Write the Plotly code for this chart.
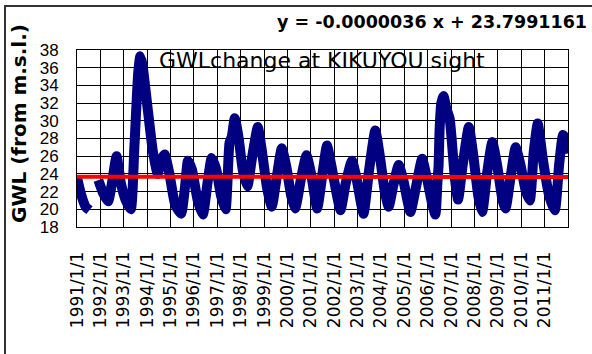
import plotly.graph_objects as go
import pandas as pd

# Groundwater level readings (m above mean sea level)
dates = [
    "1991-01-01", "1991-03-01", "1991-05-15", "1991-07-15", "1991-09-15",
    "1991-12-01", "1992-02-15", "1992-05-01", "1992-07-01", "1992-09-10", "1992-11-15",
    "1993-02-01", "1993-04-20", "1993-06-15", "1993-08-15", "1993-09-15", "1993-10-20",
    "1994-01-15", "1994-04-01", "1994-06-15", "1994-08-01", "1994-10-01", "1994-12-15",
    "1995-03-15", "1995-06-15", "1995-08-15", "1995-10-01", "1995-12-01",
    "1996-03-01", "1996-05-20", "1996-08-01", "1996-10-05", "1996-12-15",
    "1997-03-01", "1997-05-10", "1997-07-10", "1997-08-15", "1997-10-01", "1997-12-01",
    "1998-02-01", "1998-04-15", "1998-07-01", "1998-09-25", "1998-11-20",
    "1999-02-15", "1999-05-01", "1999-07-15", "1999-10-05", "1999-12-15",
    "2000-03-01", "2000-05-01", "2000-08-01", "2000-10-25",
    "2001-01-05", "2001-04-10", "2001-07-01", "2001-09-10", "2001-11-15",
    "2002-02-15", "2002-04-10", "2002-07-01", "2002-10-05", "2002-12-15",
    "2003-03-01", "2003-04-05", "2003-07-01", "2003-10-05", "2003-12-15",
    "2004-03-01", "2004-05-01", "2004-07-15", "2004-10-05", "2004-12-15",
    "2005-04-05", "2005-07-01", "2005-10-05", "2005-12-20",
    "2006-03-15", "2006-05-01", "2006-06-01", "2006-06-20", "2006-07-05", "2006-08-01",
    "2006-09-05", "2006-10-15", "2006-12-10",
    "2007-01-20", "2007-03-01", "2007-04-20", "2007-07-01", "2007-10-05", "2007-12-15",
    "2008-03-01", "2008-05-01", "2008-07-15", "2008-10-05", "2008-12-20",
    "2009-03-15", "2009-05-01", "2009-07-15", "2009-10-05", "2009-12-20",
    "2010-03-15", "2010-05-15", "2010-07-15", "2010-09-15", "2010-11-01", "2010-12-01",
    "2011-03-15", "2011-06-10", "2011-08-15", "2011-10-15", "2011-11-20", "2011-12-31",
]
gwl = [
    23.6, 21.8, 20.3, 19.9, None,
    23.3, 21.8, 20.9, 23.0, 26.0, 23.0,
    21.0, 20.0, 27.0, 35.5, 37.3, 36.3,
    31.0, 26.5, 24.0, 25.5, 26.2, 24.0,
    20.5, 19.5, 22.5, 25.5, 24.5,
    21.0, 19.4, 23.0, 25.8, 24.5,
    21.5, 20.0, 27.5, 28.2, 30.3, 28.0,
    24.5, 22.6, 26.0, 29.3, 27.0,
    22.5, 20.3, 23.5, 26.9, 24.8,
    21.5, 20.1, 23.5, 26.1,
    24.0, 20.1, 24.0, 27.2, 25.0,
    21.5, 19.9, 23.0, 25.5, 23.5,
    20.5, 19.5, 24.5, 28.9, 26.0,
    22.0, 20.3, 22.8, 25.0, 23.3,
    19.7, 22.5, 25.7, 23.5,
    20.5, 19.4, 23.0, 25.0, 29.0, 32.0,
    32.8, 31.5, 30.2,
    27.0, 23.5, 21.1, 25.0, 29.3, 26.0,
    21.5, 19.7, 24.0, 27.6, 25.0,
    21.0, 20.1, 23.5, 27.0, 25.0,
    22.0, 21.0, 26.5, 29.7, 27.5, 25.8,
    21.5, 19.9, 25.0, 28.4, 28.0, 26.3,
]

# Linear trendline as printed on the chart (x = Excel date serial)
trend_slope = -0.0000036
trend_intercept = 23.7991161
trend_dates = ["1991-01-01", "2012-01-01"]

tick_years = list(range(1991, 2012))
tick_vals = [f"{y}-01-01" for y in tick_years]
tick_text = [f"{y}/1/1" for y in tick_years]
y_ticks = list(range(18, 39, 2))

excel_epoch = pd.Timestamp("1899-12-30")
trend_vals = [trend_slope * (pd.Timestamp(d) - excel_epoch).days + trend_intercept
              for d in trend_dates]

fig = go.Figure()
fig.add_trace(go.Scatter(
    x=dates, y=gwl, mode="lines", connectgaps=False,
    line=dict(color="#000080", width=10, shape="spline", smoothing=0.5),
    showlegend=False,
))
fig.add_trace(go.Scatter(
    x=trend_dates, y=trend_vals, mode="lines",
    line=dict(color="#FF0000", width=4), showlegend=False,
))

fig.update_layout(
    width=592, height=354,
    margin=dict(l=77, r=24, t=50, b=127),
    paper_bgcolor="white", plot_bgcolor="white",
    font=dict(family="Liberation Sans, Arial, sans-serif", color="black"),
    xaxis=dict(
        type="date", range=["1991-01-01", "2012-01-01"],
        tickmode="array", tickvals=tick_vals, ticktext=tick_text,
        tickangle=-90, ticks="", ticklabelstandoff=17,
        tickfont=dict(family="DejaVu Sans", size=17, color="black"),
        showgrid=True, gridcolor="black", gridwidth=1,
        showline=True, linecolor="black", linewidth=1, mirror=True,
        zeroline=False,
    ),
    yaxis=dict(
        range=[18, 38], tickmode="array", tickvals=y_ticks,
        ticks="", ticklabelstandoff=14,
        tickfont=dict(family="Liberation Sans, Arial", size=17, color="black"),
        showgrid=True, gridcolor="black", gridwidth=1,
        showline=True, linecolor="black", linewidth=1, mirror=True,
        zeroline=False,
    ),
    shapes=[dict(type="rect", xref="paper", yref="paper",
                 x0=-72 / 491, x1=1.2, y0=-1.0, y1=1 + 44 / 177,
                 line=dict(color="#333333", width=2), layer="above")],
    annotations=[
        dict(text="GWLchange at KIKUYOU sight", xref="paper", yref="paper",
             x=80 / 491, y=1 - 10 / 177, xanchor="left", yanchor="middle",
             showarrow=False, font=dict(family="DejaVu Sans", size=22, color="black")),
        dict(text="<b>y = -0.0000036 x + 23.7991161</b>", xref="paper", yref="paper",
             x=198 / 491, y=1 + 28 / 177, xanchor="left", yanchor="middle",
             showarrow=False, font=dict(family="DejaVu Sans", size=17.5, color="black")),
        dict(text="<b>GWL (from m.s.l.)</b>", xref="paper", yref="paper",
             x=-58 / 491, y=(227 - 124) / 177, xanchor="center", yanchor="middle",
             textangle=-90, showarrow=False,
             font=dict(family="DejaVu Sans", size=20, color="black")),
    ],
)

fig.write_html("out.html")
